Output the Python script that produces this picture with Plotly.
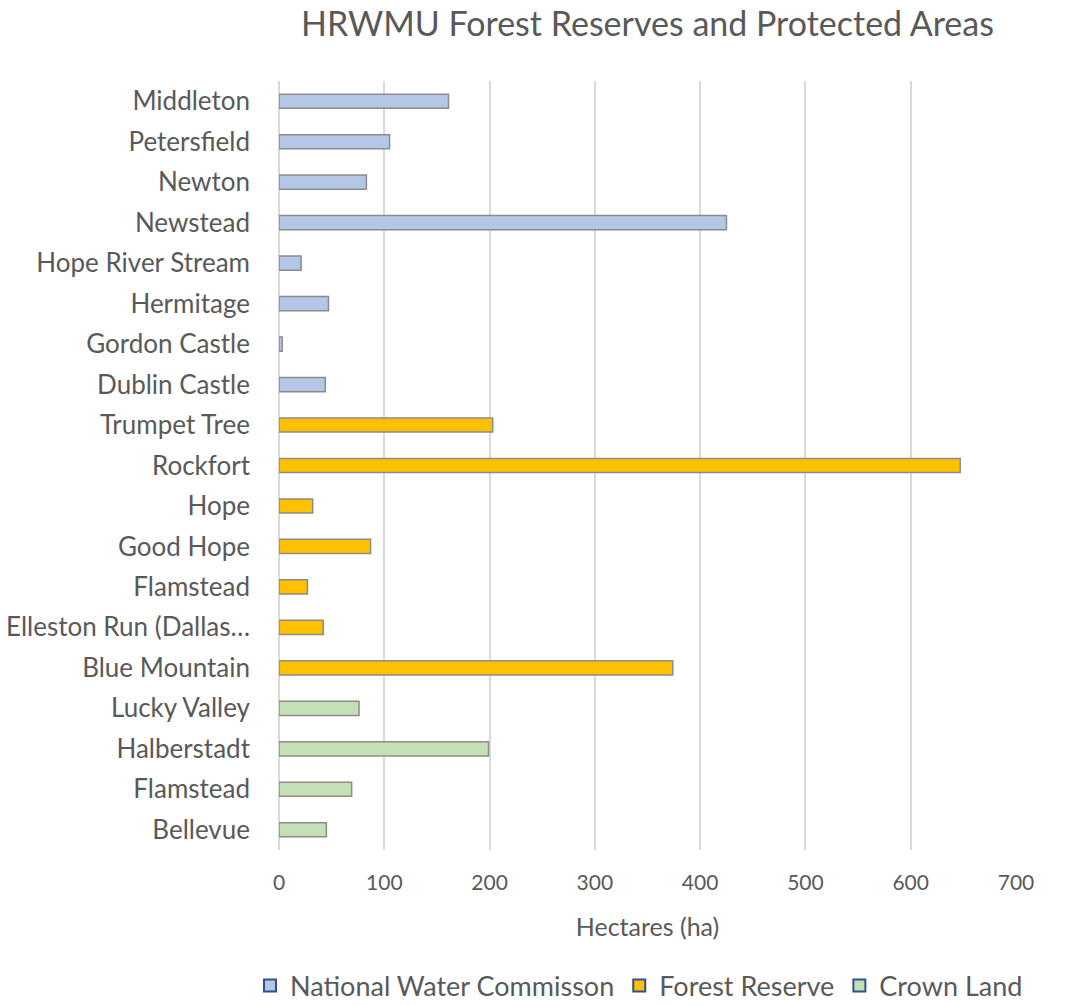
import plotly.graph_objects as go

# Sites and areas (hectares), grouped by management category
nwc_sites = ["Middleton", "Petersfield", "Newton", "Newstead", "Hope River Stream",
             "Hermitage", "Gordon Castle", "Dublin Castle"]
nwc_ha = [161, 105, 83, 425, 21, 47, 3, 44]

forest_sites = ["Trumpet Tree", "Rockfort", "Hope", "Good Hope", "Flamstead",
                "Elleston Run (Dallas…", "Blue Mountain"]
forest_ha = [203, 647, 32, 87, 27, 42, 374]

crown_sites = ["Lucky Valley", "Halberstadt", "Flamstead", "Bellevue"]
crown_ha = [76, 199, 69, 45]

x_ticks = [0, 100, 200, 300, 400, 500, 600, 700]

series = [
    ("National Water Commisson", nwc_sites, nwc_ha, "#B4C7E7"),
    ("Forest Reserve", forest_sites, forest_ha, "#FFC000"),
    ("Crown Land", crown_sites, crown_ha, "#C5E0B4"),
]

FONT = "Lato"
TEXT = "#595959"

all_labels = nwc_sites + forest_sites + crown_sites
rows = list(range(len(all_labels)))

fig = go.Figure()
start = 0
for name, sites, vals, color in series:
    ys = rows[start:start + len(sites)]
    start += len(sites)
    fig.add_trace(go.Bar(
        x=vals, y=ys, orientation="h", name=name, showlegend=False,
        width=0.35,
        marker=dict(color=color, line=dict(color="#8c8c8c", width=1.5)),
    ))
    # legend swatch with the dark-blue outline
    fig.add_trace(go.Bar(
        x=[None], y=[None], orientation="h", name=name,
        marker=dict(color=color, line=dict(color="#2F528F", width=2)),
    ))

ML, MR, MT, MB = 279, 56, 81, 155
PLOT_W = 1072 - ML - MR
PLOT_H = 1005 - MT - MB

fig.update_layout(
    width=1072, height=1005,
    barmode="overlay",
    plot_bgcolor="white", paper_bgcolor="white",
    margin=dict(l=ML, r=MR, t=MT, b=MB, autoexpand=False),
    font=dict(family=FONT, color=TEXT),
    title=dict(text="HRWMU Forest Reserves and Protected Areas",
               x=0.5, xref="paper", xanchor="center",
               y=1 - 24 / 1005, yref="container", yanchor="middle",
               font=dict(size=34, color=TEXT, family=FONT)),
    xaxis=dict(range=[0, 700], tickvals=x_ticks, showgrid=True,
               gridcolor="#d9d9d9", gridwidth=1.5, zeroline=True,
               zerolinecolor="#d9d9d9", zerolinewidth=1.5,
               showline=False, ticks="", ticklabelstandoff=18,
               automargin=False,
               tickfont=dict(size=21, color=TEXT),
               title=dict(text="Hectares (ha)", standoff=25,
                          font=dict(size=25, color=TEXT))),
    yaxis=dict(tickvals=rows, ticktext=all_labels,
               range=[len(rows) - 0.5, -0.5], showgrid=False,
               zeroline=False, showline=False, ticks="",
               ticklabelstandoff=28, automargin=False,
               tickfont=dict(size=26, color=TEXT)),
    legend=dict(orientation="h", xref="paper", x=-(ML - 250) / PLOT_W,
                xanchor="left",
                yref="paper", y=-(986 - (1005 - MB)) / PLOT_H,
                yanchor="middle",
                font=dict(size=27, color=TEXT), traceorder="normal"),
)

fig.write_html("out.html")
